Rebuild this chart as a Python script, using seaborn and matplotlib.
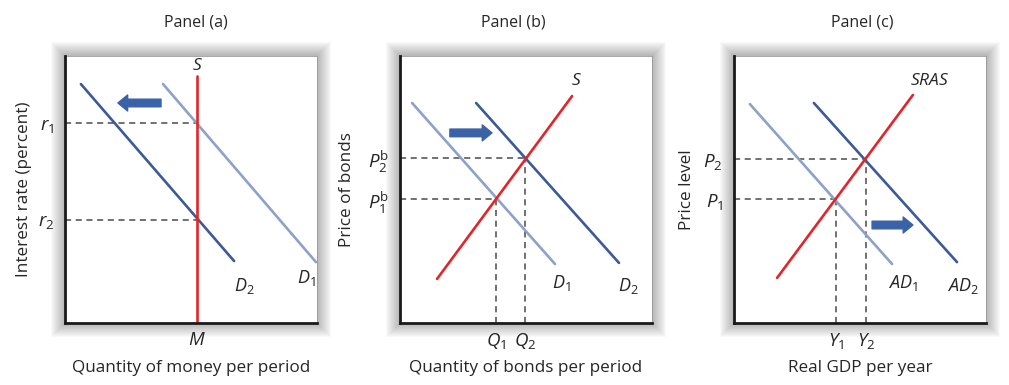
import numpy as np
import pandas as pd
import matplotlib
matplotlib.use("Agg")
import matplotlib.pyplot as plt
from matplotlib.patches import Rectangle
import seaborn as sns

# Curve endpoints in each panel's 0-10 data space
# Panel (a): money market
a_s_x = [5.24, 5.24]
a_s_y = [0.0, 9.25]
a_d1_x = [3.89, 9.96]
a_d1_y = [8.95, 2.28]
a_d2_x = [0.63, 6.71]
a_d2_y = [8.95, 2.32]
a_rates = [7.49, 3.86]
a_rate_labels = ["$r_1$", "$r_2$"]
a_qty = [5.24]
a_qty_labels = ["$M$"]

# Panel (b): bond market
b_s_x = [1.47, 6.83]
b_s_y = [1.65, 8.50]
b_d1_x = [0.48, 6.15]
b_d1_y = [8.24, 2.21]
b_d2_x = [3.02, 8.69]
b_d2_y = [8.24, 2.25]
b_prices = [6.18, 4.64]
b_price_labels = ["$P_2^{\\mathrm{b}}$", "$P_1^{\\mathrm{b}}$"]
b_qty = [3.81, 4.96]
b_qty_labels = ["$Q_1$", "$Q_2$"]

# Panel (c): AD / SRAS
c_s_x = [1.71, 7.10]
c_s_y = [1.69, 8.54]
c_d1_x = [0.63, 6.27]
c_d1_y = [8.20, 2.21]
c_d2_x = [3.17, 8.85]
c_d2_y = [8.24, 2.28]
c_prices = [6.14, 4.64]
c_price_labels = ["$P_2$", "$P_1$"]
c_qty = [4.05, 5.24]
c_qty_labels = ["$Y_1$", "$Y_2$"]

titles = ["Panel (a)", "Panel (b)", "Panel (c)"]
xlabels = ["Quantity of money per period", "Quantity of bonds per period", "Real GDP per year"]
ylabels = ["Interest rate (percent)", "Price of bonds", "Price level"]

RED = "#e1262b"
DARK = "#3d5a98"
LIGHT = "#8da2c9"
ARROW = "#3a62a6"
DASH = "#4a4a4a"

sns.set_theme(style="white")
plt.rcParams["font.family"] = ["Open Sans", "DejaVu Sans"]
plt.rcParams["mathtext.fontset"] = "custom"
plt.rcParams["mathtext.rm"] = "Open Sans"
plt.rcParams["mathtext.it"] = "Open Sans:italic"

W, H = 1009, 385
fig = plt.figure(figsize=(W / 100, H / 100), dpi=100)
fig.patch.set_facecolor("white")

lefts = [65, 400, 734]
box_w, box_h = 252, 267
box_bottom = 323

axes = []
for left in lefts:
    # soft glow around each box
    for i in range(1, 15):
        fig.patches.append(Rectangle(((left - i) / W, (H - box_bottom - i) / H),
                                     (box_w + 2 * i) / W, (box_h + 2 * i) / H,
                                     transform=fig.transFigure, facecolor="k",
                                     edgecolor="none", alpha=0.022, zorder=-5))
    ax = fig.add_axes([left / W, (H - box_bottom) / H, box_w / W, box_h / H])
    ax.set_facecolor("white")
    ax.set_xlim(0, 10)
    ax.set_ylim(0, 10)
    for side in ["top", "right"]:
        ax.spines[side].set_color("#9a9a9a")
        ax.spines[side].set_linewidth(0.6)
    for side in ["left", "bottom"]:
        ax.spines[side].set_color("#1a1a1a")
        ax.spines[side].set_linewidth(2.0)
        ax.spines[side].set_zorder(5)
    axes.append(ax)


def line(ax, xs, ys, color):
    sns.lineplot(x=xs, y=ys, ax=ax, color=color, linewidth=1.9,
                 sort=False, estimator=None)


def dash(ax, xs, ys):
    ax.plot(xs, ys, ls=(0, (4, 3)), color=DASH, lw=1.1, zorder=1)


def arrow(ax, x0, x1, y):
    ax.annotate("", xy=(x1, y), xytext=(x0, y),
                arrowprops=dict(arrowstyle="simple,tail_width=0.55,head_width=1.15,head_length=0.7",
                                color=ARROW, shrinkA=0, shrinkB=0, mutation_scale=10))


# Panel (a)
ax = axes[0]
for y in a_rates:
    dash(ax, [0, a_qty[0]], [y, y])
line(ax, a_d1_x, a_d1_y, LIGHT)
line(ax, a_d2_x, a_d2_y, DARK)
line(ax, a_s_x, a_s_y, RED)
arrow(ax, 3.81, 2.10, 8.24)
ax.text(5.24, 9.62, "$S$", ha="center", va="center", fontsize=12.5)
ax.text(7.10, 1.40, "$D_2$", ha="center", va="center", fontsize=13)
ax.text(9.56, 1.70, "$D_1$", ha="center", va="center", fontsize=13)
ax.set_yticks(a_rates, a_rate_labels)
ax.set_xticks(a_qty, a_qty_labels)

# Panels (b) and (c)
for ax, sx, sy, d1x, d1y, d2x, d2y, prices, plabels, qty, qlabels in [
    (axes[1], b_s_x, b_s_y, b_d1_x, b_d1_y, b_d2_x, b_d2_y, b_prices, b_price_labels, b_qty, b_qty_labels),
    (axes[2], c_s_x, c_s_y, c_d1_x, c_d1_y, c_d2_x, c_d2_y, c_prices, c_price_labels, c_qty, c_qty_labels),
]:
    for p, q in zip(prices, qty[::-1]):
        dash(ax, [0, q], [p, p])
        dash(ax, [q, q], [0, p])
    line(ax, d1x, d1y, LIGHT)
    line(ax, d2x, d2y, DARK)
    line(ax, sx, sy, RED)
    ax.set_yticks(prices, plabels)
    ax.set_xticks(qty, qlabels)

ax = axes[1]
arrow(ax, 1.98, 3.65, 7.12)
ax.text(7.02, 9.05, "$S$", ha="center", va="center", fontsize=12.5)
ax.text(6.39, 1.48, "$D_1$", ha="center", va="center", fontsize=13)
ax.text(9.05, 1.40, "$D_2$", ha="center", va="center", fontsize=13)

ax = axes[2]
arrow(ax, 5.48, 7.10, 3.67)
ax.text(7.78, 9.05, "$SRAS$", ha="center", va="center", fontsize=12.5)
ax.text(6.71, 1.48, "$AD_1$", ha="center", va="center", fontsize=13)
ax.text(9.09, 1.40, "$AD_2$", ha="center", va="center", fontsize=13)

title_x = [0.52, 0.45, 0.51]
ylab_x = [-0.13, -0.18, -0.155]
for ax, t, tx, xl, yl, yx in zip(axes, titles, title_x, xlabels, ylabels, ylab_x):
    ax.text(tx, 1.125, t, transform=ax.transAxes, ha="center", va="center", fontsize=11.5)
    ax.set_xlabel(xl, fontsize=12.3)
    ax.set_ylabel(yl, fontsize=12.3)
    ax.xaxis.set_label_coords(0.5, -0.14)
    ax.yaxis.set_label_coords(yx, 0.5)
    ax.tick_params(axis="both", length=0, labelsize=13.5)
    ax.tick_params(axis="y", pad=8)
    ax.tick_params(axis="x", pad=6)

fig.savefig("out.png", dpi=100, facecolor="white")
